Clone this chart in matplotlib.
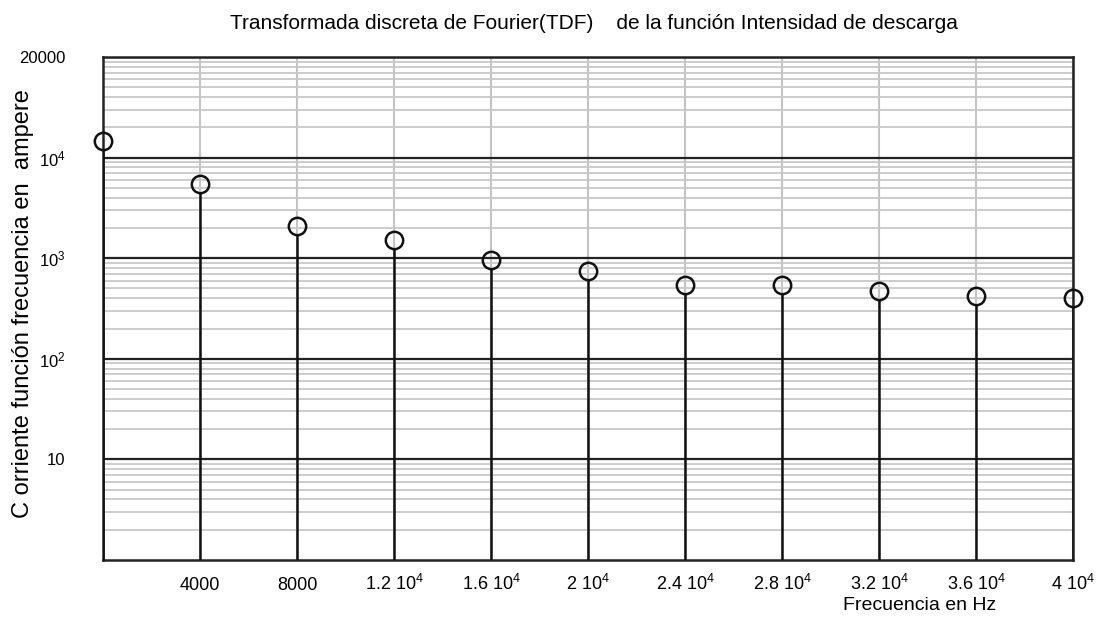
import matplotlib
matplotlib.use("Agg")
import matplotlib.pyplot as plt
import numpy as np
from matplotlib.ticker import FixedLocator, LogLocator, NullFormatter

plt.rcParams["font.family"] = ["Liberation Sans", "DejaVu Sans"]
plt.rcParams["mathtext.fontset"] = "custom"
plt.rcParams["mathtext.rm"] = "Liberation Sans"
plt.rcParams["mathtext.it"] = "Liberation Sans"
plt.rcParams["mathtext.default"] = "rm"

freq = [0, 4000, 8000, 12000, 16000, 20000, 24000, 28000, 32000, 36000, 40000]
amps = [14500, 5500, 2100, 1500, 960, 740, 540, 540, 470, 420, 400]

xticks = [4000, 8000, 12000, 16000, 20000, 24000, 28000, 32000, 36000, 40000]
xlabels = ["4000", "8000", "1.2 $10^4$", "1.6 $10^4$", "2 $10^4$",
           "2.4 $10^4$", "2.8 $10^4$", "3.2 $10^4$", "3.6 $10^4$", "4 $10^4$"]
yticks = [10, 100, 1000, 10000, 100000]
ylabels = ["10", "$10^2$", "$10^3$", "$10^4$", "20000"]

fig = plt.figure(figsize=(11.04, 6.26), dpi=100)
ax = fig.add_axes([103 / 1104, 1 - 560 / 626, 970 / 1104, 503 / 626])

ax.set_yscale("log")
ax.set_xlim(0, 40000)
ax.set_ylim(1, 100000)

# grid: gray verticals + gray minor horizontals, black decade lines
ax.xaxis.set_major_locator(FixedLocator(xticks))
ax.set_xticklabels(xlabels)
ax.yaxis.set_major_locator(FixedLocator(yticks))
ax.set_yticklabels(ylabels)
ax.yaxis.set_minor_locator(LogLocator(base=10, subs=np.arange(2, 10)))
ax.yaxis.set_minor_formatter(NullFormatter())
ax.grid(True, axis="x", color="#c4c4c4", linewidth=1.5)
ax.grid(True, axis="y", which="minor", color="#c8c8c8", linewidth=1.3)
ax.grid(True, axis="y", which="major", color="#222222", linewidth=1.6)
ax.set_axisbelow(True)

ax.tick_params(axis="both", which="both", length=0)
ax.tick_params(axis="x", pad=9, labelsize=13)
ax.tick_params(axis="y", pad=27, labelsize=12)
for lbl in ax.get_xticklabels():
    lbl.set_verticalalignment("baseline")
    lbl.set_y(-0.035)

for sp in ax.spines.values():
    sp.set_linewidth(1.8)
    sp.set_color("#222222")

# stems stop at the bottom of the circle
top = [a / 1.22 for a in amps]
ax.vlines(freq, 1, top, color="#111111", linewidth=1.8, zorder=3)
ax.plot(freq, amps, linestyle="none", marker="o", markersize=12.5,
        markerfacecolor="none", markeredgecolor="#111111",
        markeredgewidth=1.8, zorder=4, clip_on=False)

fig.text(0.538, 0.963, "Transformada discreta de Fourier(TDF)    de la funci\u00f3n Intensidad de descarga",
         ha="center", va="center", fontsize=15)
fig.text(0.021, 0.515, "C orriente funci\u00f3n frecuencia en  ampere", rotation=90,
         ha="center", va="center", fontsize=17)
fig.text(0.833, 0.032, "Frecuencia en Hz", ha="center", va="center", fontsize=14)

fig.savefig("out.png", dpi=100)
